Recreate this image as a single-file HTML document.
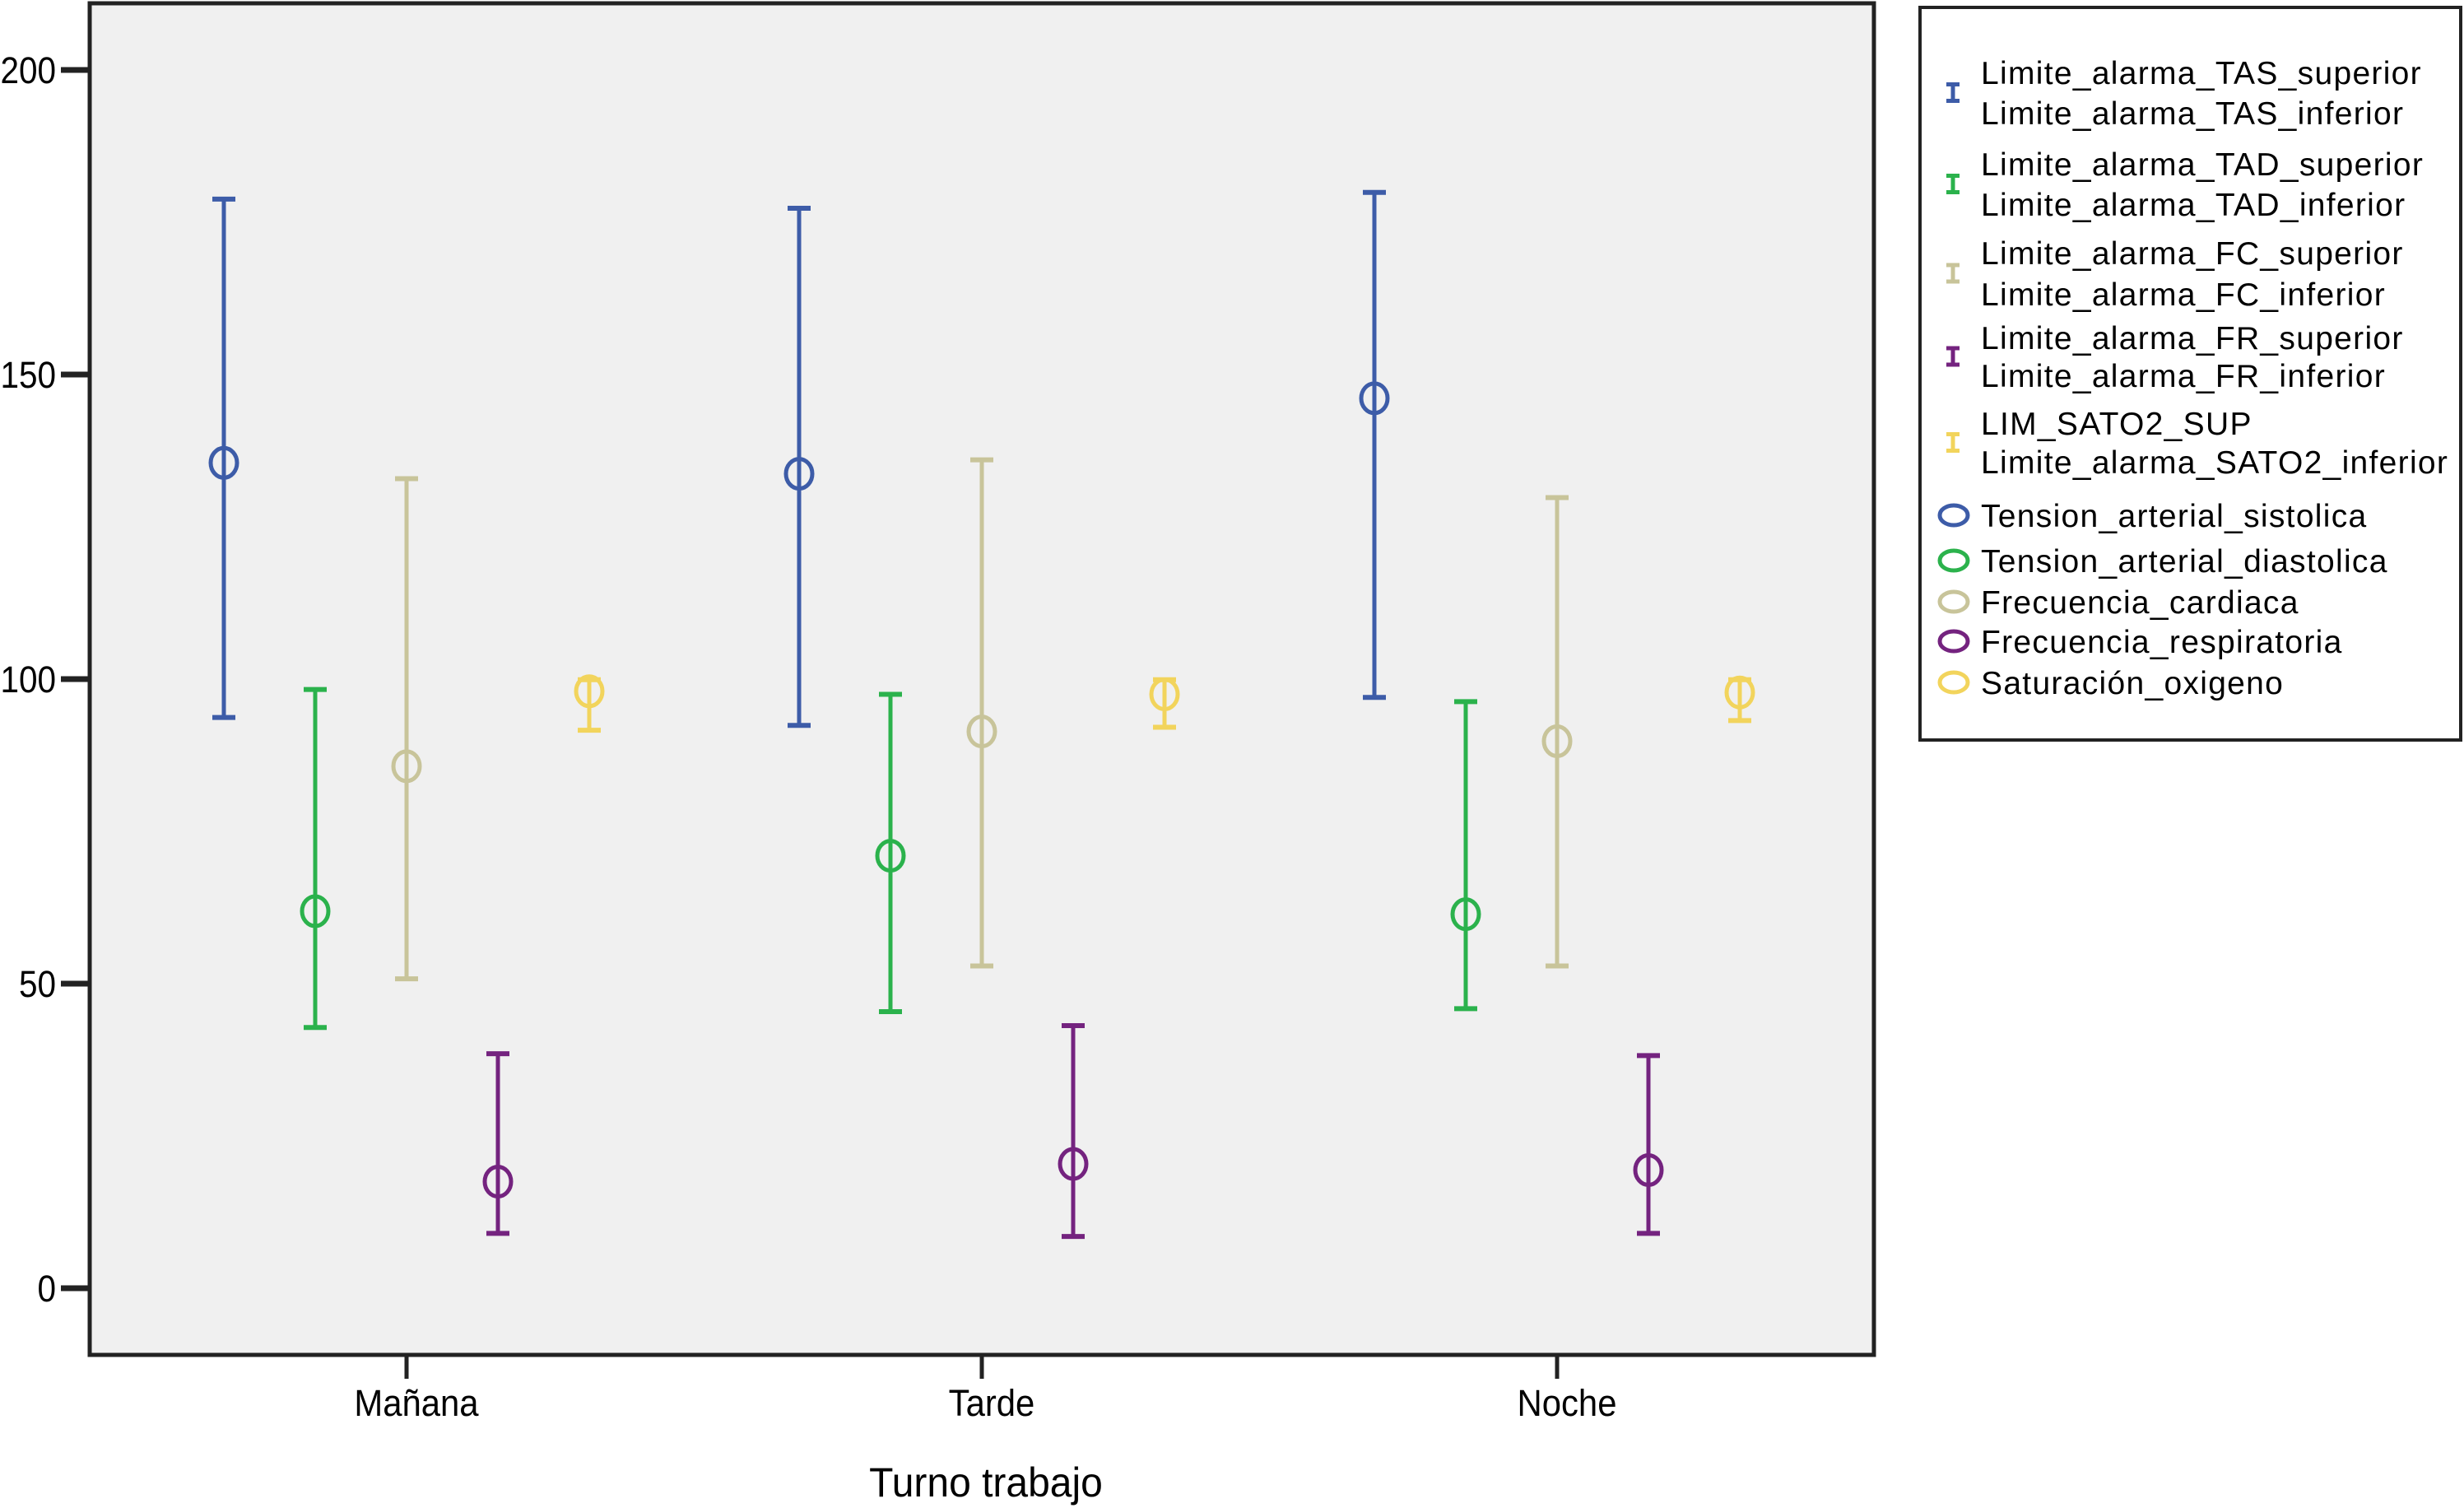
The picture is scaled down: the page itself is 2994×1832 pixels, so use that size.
<!DOCTYPE html>
<html><head><meta charset="utf-8"><style>
html,body{margin:0;padding:0;background:#fff;}
svg{display:block;}
text{font-family:"Liberation Sans",sans-serif;fill:#000;}
</style></head><body>
<svg id="chart" width="2994" height="1832" viewBox="0 0 2994 1832" xmlns="http://www.w3.org/2000/svg">
<rect x="109" y="4" width="2168" height="1642" fill="#f0f0f0" stroke="#222" stroke-width="5"/>
<g id="yaxis"></g>
<g id="xaxis"></g>
<g id="marks"></g>
<text x="1198" y="1818" font-size="50" text-anchor="middle" transform="translate(1198 0) scale(0.96 1) translate(-1198 0)">Turno trabajo</text>
<g>
<rect x="2333" y="9" width="657" height="890" fill="#fff" stroke="#222" stroke-width="4"/>
<g id="legend-items"></g>
</g>
</svg>
<script>
const categories = ["Mañana", "Tarde", "Noche"];
const seriesNames = ["Tension_arterial_sistolica","Tension_arterial_diastolica","Frecuencia_cardiaca","Frecuencia_respiratoria","Saturación_oxigeno"];
const seriesColors = ["#3d5ca8","#2bb24c","#c8c49a","#74237f","#f2d45c"];
// per series, per category
const meanVals = [[135.5,133.7,146.1],[61.9,71.0,61.4],[85.7,91.4,89.8],[17.5,20.4,19.4],[98.0,97.5,97.8]];
const upperVals = [[178.8,177.3,179.9],[98.3,97.5,96.3],[132.9,136.0,129.8],[38.5,43.1,38.2],[99.9,99.9,99.9]];
const lowerVals = [[93.7,92.4,97.0],[42.8,45.4,45.9],[50.8,52.9,52.9],[9.0,8.5,9.0],[91.6,92.1,93.2]];
const yTicks = [0,50,100,150,200];
const barLegend = [["Limite_alarma_TAS_superior","Limite_alarma_TAS_inferior"],["Limite_alarma_TAD_superior","Limite_alarma_TAD_inferior"],["Limite_alarma_FC_superior","Limite_alarma_FC_inferior"],["Limite_alarma_FR_superior","Limite_alarma_FR_inferior"],["LIM_SATO2_SUP","Limite_alarma_SATO2_inferior"]];

const NS="http://www.w3.org/2000/svg";
const y0=1565, yPer=7.4;
function yScale(v){return y0-v*yPer;}
function xScale(ci){return 494+ci*699;}
function offset(si){return (si-2)*111;}
function mk(tag,attrs,parent){const e=document.createElementNS(NS,tag);for(const k in attrs)e.setAttribute(k,attrs[k]);parent.appendChild(e);return e;}

const ya=document.getElementById('yaxis');
yTicks.forEach(t=>{
  const y=yScale(t);
  const l=mk('line',{x1:74,x2:109,y1:y,y2:y,stroke:'#222','stroke-width':7},ya);
  
  
  const tx=mk('text',{x:68,y:y+16,'font-size':45,'text-anchor':'end',transform:`translate(68 0) scale(0.9 1) translate(-68 0)`},ya);
  tx.textContent=t;
  
  
});
const xa=document.getElementById('xaxis');
categories.forEach((c,i)=>{
  const x=xScale(i);
  const l=mk('line',{x1:x,x2:x,y1:1646,y2:1675,stroke:'#222','stroke-width':5},xa);
  
  
  const tx=mk('text',{x:x+12,y:1720,'font-size':45,'text-anchor':'middle',transform:`translate(${x+12} 0) scale(0.93 1) translate(${-(x+12)} 0)`},xa);
  tx.textContent=c;
  
  
});
const mg=document.getElementById('marks');
seriesNames.forEach((s,si)=>{
  const col=seriesColors[si];
  categories.forEach((c,ci)=>{
    const x=xScale(ci)+offset(si);
    const g=mk('g',{},mg);
    
    
    const yu=yScale(upperVals[si][ci]), yl=yScale(lowerVals[si][ci]), ym=yScale(meanVals[si][ci]);
    mk('line',{x1:x,x2:x,y1:yu,y2:yl,stroke:col,'stroke-width':5},g);
    mk('line',{x1:x-14,x2:x+14,y1:yu,y2:yu,stroke:col,'stroke-width':6},g);
    mk('line',{x1:x-14,x2:x+14,y1:yl,y2:yl,stroke:col,'stroke-width':6},g);
    const e=mk('ellipse',{cx:x,cy:ym,rx:16,ry:18,fill:'none',stroke:col,'stroke-width':5},g);
    
    
  });
});
const lg=document.getElementById('legend-items');
const barRows=[[88,137],[199,248],[307,357],[410,456],[514,561]];
barLegend.forEach((pair,i)=>{
  const col=seriesColors[i];
  const yc=(barRows[i][0]+barRows[i][1])/2;
  const g=mk('g',{},lg);
  
  
  mk('line',{x1:2373,x2:2373,y1:yc-10,y2:yc+10,stroke:col,'stroke-width':5},g);
  mk('line',{x1:2365,x2:2381,y1:yc-10,y2:yc-10,stroke:col,'stroke-width':5},g);
  mk('line',{x1:2365,x2:2381,y1:yc+10,y2:yc+10,stroke:col,'stroke-width':5},g);
  pair.forEach((t,j)=>{const tx=mk('text',{x:2407,y:barRows[i][j]+14,'font-size':39,'letter-spacing':1.3},g);tx.textContent=t;});
});
const ptRows=[626,681,731,779,829];
seriesNames.forEach((s,i)=>{
  const g=mk('g',{},lg);
  
  
  mk('ellipse',{cx:2374,cy:ptRows[i],rx:17,ry:12,fill:'none',stroke:seriesColors[i],'stroke-width':5},g);
  const tx=mk('text',{x:2407,y:ptRows[i]+14,'font-size':39,'letter-spacing':1.3},g);tx.textContent=s;
});
</script>
</body></html>
